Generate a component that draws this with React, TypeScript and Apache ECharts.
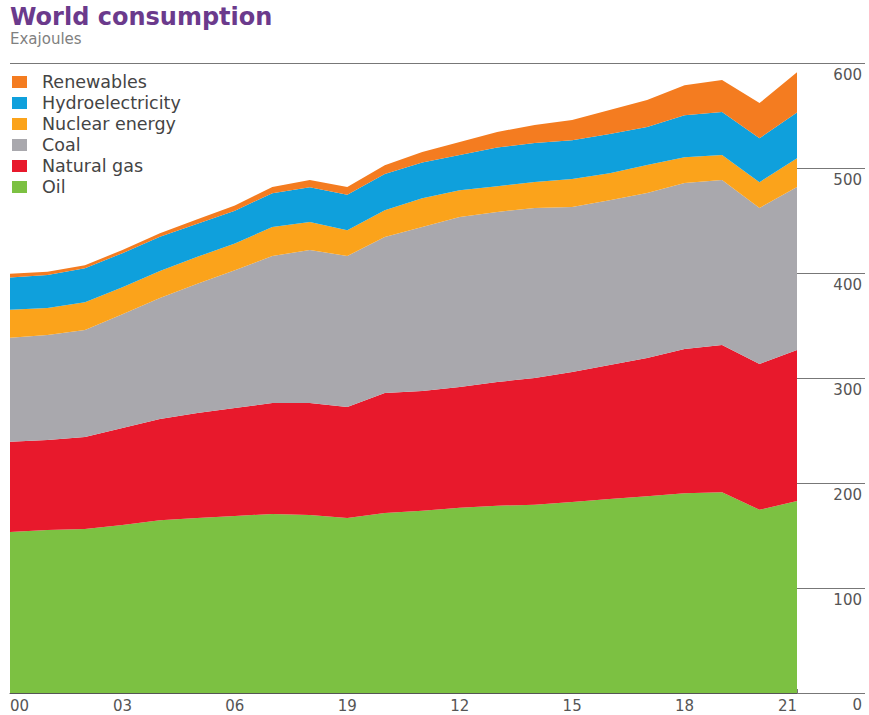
import React, { useEffect, useRef } from "react";
import * as echarts from "echarts";

const years = ["00","01","02","03","04","05","06","07","08","09","10","11","12","13","14","15","16","17","18","19","20","21"];
const xTickLabels = ["00", "03", "06", "19", "12", "15", "18", "21"];
const yTickLabels = ["0", "100", "200", "300", "400", "500", "600"];

const oil = [153.4,155.2,156.2,160,164.6,166.6,168.6,170.5,169.5,166.6,171.5,173.5,176.4,178.4,179.4,181.9,184.7,187.3,190.2,191.2,174.5,182.8];
const naturalGas = [85.8,85.8,87.5,92.4,96.3,100,102.9,105.7,106.7,105.8,114.2,114.1,115,117.8,120.6,123.8,127.6,131.8,137.4,140.2,138.9,143.8];
const coal = [99.1,100,101.9,108.4,115.3,123.2,131.1,140,145.7,143.8,148.5,156.1,161.9,161.9,162,157.2,157.1,157.1,158.1,157.2,148.5,155.2];
const nuclear = [26.6,25.6,26.6,25.6,25.6,25.6,25.6,27.6,26.6,24.6,25.6,27.6,25.6,24.6,24.6,26.6,25.6,26.6,24.6,23.7,24.6,27.6];
const hydro = [30.9,31.5,32.3,32.5,32.7,31.5,31.1,32.2,33.2,33.7,34.5,34,33.5,36.8,37.2,37,37.5,36.3,40,41,41.8,43.5];
const renewables = [3.4,3,3,3,3.4,4.4,4.9,5.9,6.9,7.4,8.4,9.9,12.3,14.8,17.2,19.2,22.7,25.6,28.6,30.6,33.5,38.4];

const seriesDefs = [
  { name: "Oil", data: oil, color: "#7CC142" },
  { name: "Natural gas", data: naturalGas, color: "#E8192C" },
  { name: "Coal", data: coal, color: "#A9A8AD" },
  { name: "Nuclear energy", data: nuclear, color: "#FBA31B" },
  { name: "Hydroelectricity", data: hydro, color: "#0FA0DC" },
  { name: "Renewables", data: renewables, color: "#F47C20" },
];
const legendOrder = ["Renewables", "Hydroelectricity", "Nuclear energy", "Coal", "Natural gas", "Oil"];

const FONT = "DejaVu Sans, Verdana, sans-serif";

export default function App() {
  const ref = useRef<HTMLDivElement>(null);
  useEffect(() => {
    if (!ref.current) return;
    const chart = echarts.init(ref.current, null, { renderer: "svg" });
    const tickIdx: Record<number, string> = {};
    xTickLabels.forEach((t, i) => { tickIdx[i * 3] = t; });
    chart.setOption({
      animation: false,
      backgroundColor: "#ffffff",
      title: {
        text: "World consumption",
        subtext: "Exajoules",
        left: 5,
        top: 0,
        itemGap: 2,
        textStyle: { color: "#6B3A8C", fontSize: 24, fontWeight: "bold", fontFamily: FONT },
        subtextStyle: { color: "#808080", fontSize: 15, fontFamily: FONT },
      },
      legend: {
        orient: "vertical",
        left: 7,
        top: 68,
        itemWidth: 15,
        itemHeight: 12,
        itemGap: 3,
        icon: "rect",
        data: legendOrder,
        textStyle: { color: "#444444", fontSize: 17.5, fontFamily: FONT, padding: [0, 0, 0, 10] },
      },
      grid: { left: 10, right: 72, top: 63, bottom: 22 },
      xAxis: {
        type: "category",
        data: years,
        boundaryGap: false,
        axisLine: { show: true, lineStyle: { color: "#555555", width: 1 } },
        axisTick: { show: true, inside: true, length: 4, interval: 2, lineStyle: { color: "#777777" } },
        axisLabel: {
          interval: 2,
          margin: 5,
          color: "#555555",
          fontSize: 15,
          fontFamily: FONT,
          alignMinLabel: "left",
          alignMaxLabel: "right",
          formatter: (_v: string, idx: number) => tickIdx[idx] ?? "",
        },
        splitLine: { show: false },
      },
      yAxis: {
        type: "value",
        position: "right",
        min: 0,
        max: 600,
        interval: 100,
        axisLine: { show: false },
        axisTick: { show: true, inside: false, length: 68, lineStyle: { color: "#777777", width: 1 } },
        axisLabel: {
          margin: 65,
          align: "right",
          verticalAlign: "top",
          padding: [4, 0, 0, 0],
          color: "#555555",
          fontSize: 15,
          fontFamily: FONT,
          formatter: (v: number) => yTickLabels[Math.round(v / 100)] ?? String(v),
        },
        splitLine: {
          show: true,
          lineStyle: {
            width: 1,
            color: ["transparent", "transparent", "transparent", "transparent", "transparent", "transparent", "#777777"],
          },
        },
      },
      series: seriesDefs.map((s) => ({
        name: s.name,
        type: "line",
        stack: "total",
        data: s.data,
        symbol: "none",
        smooth: false,
        itemStyle: { color: s.color },
        lineStyle: { width: 0, color: s.color },
        areaStyle: { color: s.color, opacity: 1 },
      })),
    });
    return () => chart.dispose();
  }, []);
  return <div ref={ref} style={{ width: 869, height: 715, position: "absolute", left: 0, top: 0 }} />;
}
